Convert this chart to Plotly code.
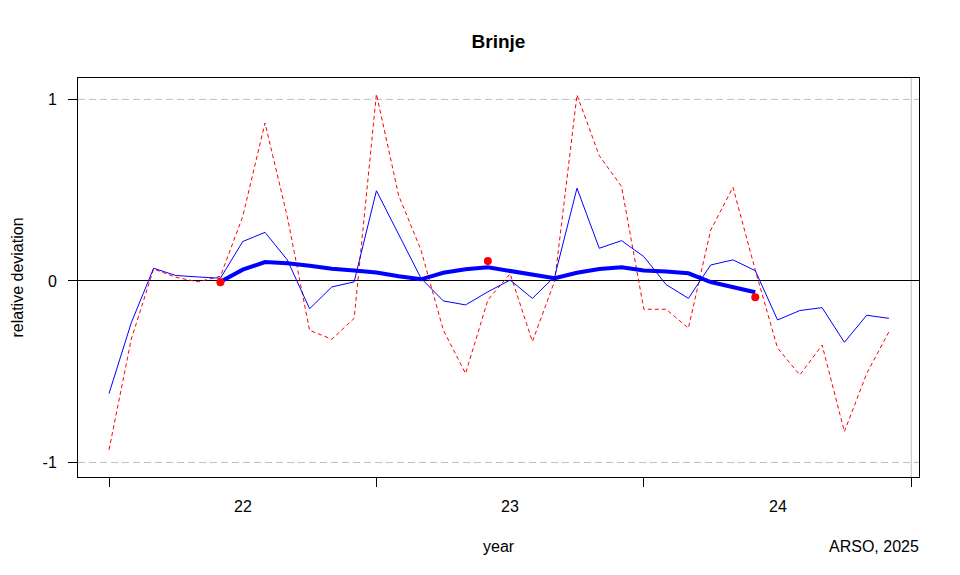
import plotly.graph_objects as go

# ---- data ----
years = [2022] * 12 + [2023] * 12 + [2024] * 12
months = list(range(1, 13)) * 3

monthly_dev_b = [-0.62, -0.23, 0.07, 0.03, 0.022, 0.015, 0.217, 0.268, 0.116, -0.153, -0.033, -0.005,
                 0.497, 0.255, 0.015, -0.11, -0.132, -0.06, 0.005, -0.096, 0.024, 0.511, 0.18, 0.222,
                 0.134, -0.02, -0.096, 0.088, 0.116, 0.057, -0.215, -0.163, -0.147, -0.338, -0.189, -0.206]

monthly_dev_r = [-0.93, -0.32, 0.066, 0.02, -0.005, 0.026, 0.355, 0.87, 0.354, -0.272, -0.321, -0.206,
                 1.03, 0.47, 0.17, -0.27, -0.51, -0.105, 0.04, -0.334, 0.0, 1.025, 0.69, 0.52,
                 -0.156, -0.156, -0.26, 0.28, 0.516, 0.06, -0.37, -0.518, -0.353, -0.83, -0.51, -0.28]

smooth_start = 5  # index of first month with a running mean
smooth_dev = [-0.004, 0.062, 0.104, 0.097, 0.084, 0.067, 0.058, 0.047, 0.026, 0.009, 0.045, 0.064,
              0.075, 0.055, 0.033, 0.015, 0.045, 0.066, 0.075, 0.058, 0.052, 0.042, -0.006, -0.035, -0.062]

annual_idx = [5, 17, 29]
annual_dev = [-0.007, 0.110, -0.09]

year_ticks = [2022, 2023, 2024, 2025]
year_labels = ["22", "23", "24"]

# ---- figure ----
x_month = [y + (m - 1) / 12 for y, m in zip(years, months)]
x_smooth = x_month[smooth_start:smooth_start + len(smooth_dev)]
x_annual = [x_month[i] for i in annual_idx]

FONT = "Liberation Sans, Arial, sans-serif"
OFF = 8  # page body margin
W, H = 960 - OFF, 575 - OFF

fig = go.Figure()
fig.add_trace(go.Scatter(x=x_month, y=monthly_dev_r, mode="lines",
                         line=dict(color="red", width=1, dash="4px,3px"), showlegend=False))
fig.add_trace(go.Scatter(x=x_month, y=monthly_dev_b, mode="lines",
                         line=dict(color="blue", width=1), showlegend=False))
fig.add_trace(go.Scatter(x=x_smooth, y=smooth_dev, mode="lines",
                         line=dict(color="blue", width=4), showlegend=False))
fig.add_trace(go.Scatter(x=x_annual, y=annual_dev, mode="markers",
                         marker=dict(color="red", size=8), showlegend=False))

shapes = []
for yv in (1, -1):
    shapes.append(dict(type="line", xref="paper", x0=0, x1=1, yref="y", y0=yv, y1=yv,
                       line=dict(color="#bebebe", width=1, dash="7px,4px"), layer="below"))
shapes.append(dict(type="line", xref="x", x0=2025, x1=2025, yref="paper", y0=0, y1=1,
                   line=dict(color="#bebebe", width=1), layer="below"))

annotations = []
for i, lab in enumerate(year_labels):
    annotations.append(dict(text=lab, xref="x", x=year_ticks[i] + 0.5, yref="paper", y=0,
                            yshift=-29, yanchor="middle", xanchor="center", showarrow=False,
                            font=dict(family=FONT, size=16, color="black")))
annotations.append(dict(text="relative deviation", xref="paper", x=0, xshift=-61, xanchor="center",
                        yref="paper", y=0.5, yanchor="middle", textangle=-90, showarrow=False,
                        font=dict(family=FONT, size=16, color="black")))
annotations.append(dict(text="year", xref="paper", x=0.5, yref="paper", y=0, yshift=-69,
                        yanchor="middle", xanchor="center", showarrow=False,
                        font=dict(family=FONT, size=16, color="black")))
annotations.append(dict(text="ARSO, 2025", xref="paper", x=1, xshift=2, xanchor="right",
                        yref="paper", y=0, yshift=-69, yanchor="middle", showarrow=False,
                        font=dict(family=FONT, size=16, color="black")))

fig.update_layout(
    width=W, height=H,
    margin=dict(l=78 - OFF, r=41, t=78 - OFF, b=98),
    paper_bgcolor="white", plot_bgcolor="white",
    title=dict(text="<b>Brinje</b>", x=0.5, xref="paper", y=1 - (41 - OFF) / H, yref="container",
               xanchor="center", yanchor="middle", font=dict(family=FONT, size=19, color="black")),
    xaxis=dict(range=[2021.884, 2025.029], showgrid=False, zeroline=False,
               showline=True, linecolor="black", linewidth=1, mirror=True,
               tickvals=year_ticks, ticktext=["", "", "", ""], ticks="outside",
               ticklen=9, tickcolor="black", tickwidth=1),
    yaxis=dict(range=[-1.08, 1.118], showgrid=False,
               zeroline=True, zerolinecolor="black", zerolinewidth=1,
               showline=True, linecolor="black", linewidth=1, mirror=True,
               tickvals=[-1, 0, 1], ticktext=["-1", "0", "1"], ticks="outside",
               ticklen=9, tickcolor="black", tickwidth=1, ticklabelstandoff=8,
               tickfont=dict(family=FONT, size=16, color="black")),
    shapes=shapes, annotations=annotations,
)

fig.write_html("out.html")
